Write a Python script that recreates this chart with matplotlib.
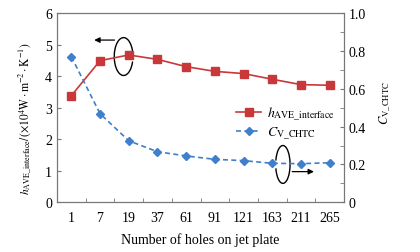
import matplotlib.pyplot as plt
from matplotlib.patches import Arc

plt.rcParams['font.family'] = ['Liberation Serif', 'DejaVu Serif']
plt.rcParams['mathtext.fontset'] = 'stix'

# Data
holes = ['1', '7', '19', '37', '61', '91', '121', '163', '211', '265']
h_ave = [3.38, 4.49, 4.67, 4.53, 4.30, 4.15, 4.08, 3.90, 3.73, 3.71]
c_v = [0.769, 0.468, 0.325, 0.267, 0.245, 0.227, 0.220, 0.206, 0.204, 0.209]

red = '#C8383B'
blue = '#3F7FCB'
frame = '#777777'

fig = plt.figure(figsize=(4.2, 2.53), dpi=100)
ax1 = fig.add_axes([57 / 420, 1 - 203.3 / 253, 287 / 420, 189.3 / 253])
ax2 = ax1.twinx()

xpos = [i + 0.5 for i in range(len(holes))]
l1, = ax1.plot(xpos, h_ave, '-s', color=red, lw=1.2, ms=5.5, label=r'$h_{\rm AVE\_interface}$')
l2, = ax2.plot(xpos, c_v, '--D', color=blue, lw=1.2, ms=4, dashes=(3, 2), label=r'$C_{\rm V\_CHTC}$')

ax1.set_xlim(0, 10)
ax1.set_ylim(0, 6)
ax2.set_ylim(0, 1.0)
ax1.set_xticks(xpos)
ax1.set_xticklabels(holes)
ax1.set_xticks(range(1, 10), minor=True)
ax1.tick_params(axis='x', which='major', length=0, labelsize=10, pad=6)
ax1.tick_params(axis='x', which='minor', direction='in', length=3, color=frame)
ax1.set_yticks(range(0, 7))
ax1.tick_params(axis='y', direction='in', length=3, color=frame, labelsize=10)
ax2.set_yticks([0, 0.2, 0.4, 0.6, 0.8, 1.0])
ax2.set_yticklabels(['0', '0.2', '0.4', '0.6', '0.8', '1.0'])
ax2.set_yticks([0.1, 0.3, 0.5, 0.7, 0.9], minor=True)
ax2.tick_params(axis='y', which='both', direction='in', length=3, color=frame, labelsize=10)

for ax in (ax1, ax2):
    for s in ax.spines.values():
        s.set_color(frame)
        s.set_linewidth(0.8)

ax1.set_xlabel('Number of holes on jet plate', fontsize=10, labelpad=6)
ax1.set_ylabel(r'$h_{\rm AVE\_interface}/(\times10^4{\rm W\cdot m^{-2}\cdot K^{-1}})$', fontsize=8.3, labelpad=4)
ax1.yaxis.set_label_coords(-0.085, 0.45)
ax2.set_ylabel(r'$C_{\rm V\_CHTC}$', fontsize=9, labelpad=6)
ax2.yaxis.set_label_coords(1.115, 0.53)

ax1.legend(handles=[l1, l2], loc='upper left', bbox_to_anchor=(0.6, 0.555), frameon=False,
           fontsize=10, handlelength=1.8, handletextpad=0.4, labelspacing=0.15, borderpad=0)

# rotation arrow symbols
ax1.add_patch(Arc((0.232, 0.77), 0.065, 0.20, theta1=40, theta2=320,
                  transform=ax1.transAxes, color='black', lw=1))
ax1.annotate('', xy=(0.12, 0.857), xytext=(0.21, 0.857), xycoords='axes fraction',
             arrowprops=dict(arrowstyle='-|>', color='black', lw=0.9, mutation_scale=8))
ax1.add_patch(Arc((0.787, 0.20), 0.05, 0.20, theta1=-140, theta2=140,
                  transform=ax1.transAxes, color='black', lw=1))
ax1.annotate('', xy=(0.905, 0.162), xytext=(0.81, 0.162), xycoords='axes fraction',
             arrowprops=dict(arrowstyle='-|>', color='black', lw=0.9, mutation_scale=8))

fig.savefig('out.png', dpi=100)
